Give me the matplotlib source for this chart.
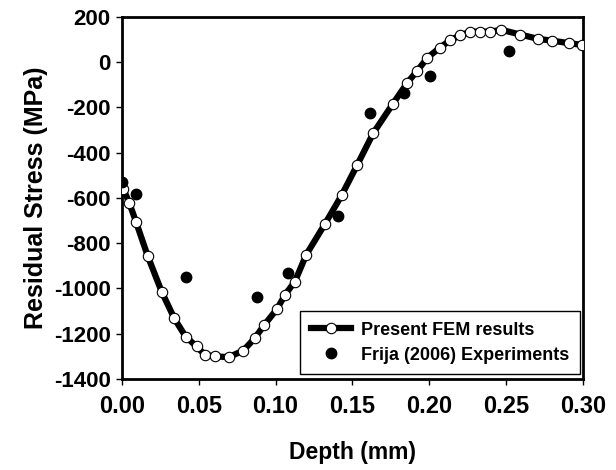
import numpy as np
import matplotlib.pyplot as plt

# FEM 결과 (깊이 mm, 잔류응력 MPa)
fem_depth = [0.0009, 0.0048, 0.0091, 0.0167, 0.0258, 0.0340, 0.0414, 0.0486,
             0.0540, 0.0605, 0.0696, 0.0790, 0.0865, 0.0924, 0.1010, 0.1061,
             0.1126, 0.1200, 0.1321, 0.1430, 0.1532, 0.1636, 0.1762, 0.1859,
             0.1924, 0.1989, 0.2070, 0.2139, 0.2204, 0.2269, 0.2334, 0.2399,
             0.2470, 0.2594, 0.2709, 0.2800, 0.2911, 0.2998]
fem_stress = [-561, -623, -705, -856, -1014, -1132, -1213, -1257,
              -1294, -1301, -1304, -1275, -1220, -1164, -1091, -1029,
              -970, -851, -716, -589, -454, -314, -186, -90,
              -37, 20, 64, 98, 119, 135, 135, 135,
              143, 122, 103, 95, 84, 76]

# 실험 데이터 (Frija 2006)
exp_depth = [0.0000, 0.0091, 0.0414, 0.0876, 0.1082, 0.1404, 0.1618, 0.1837, 0.2005, 0.2519]
exp_stress = [-528, -582, -951, -1039, -930, -680, -226, -137, -59, 51]

xticks = [0.00, 0.05, 0.10, 0.15, 0.20, 0.25, 0.30]
yticks = [-1400, -1200, -1000, -800, -600, -400, -200, 0, 200]

plt.rcParams['font.family'] = ['Liberation Sans', 'DejaVu Sans']
plt.rcParams['font.weight'] = 'bold'

fig = plt.figure(figsize=(6.16, 4.70), dpi=100)
ax = fig.add_axes([0.198, 0.194, 0.748, 0.770])

ax.plot(fem_depth, fem_stress, color='black', lw=4.5, marker='o', ms=7.5,
        mfc='white', mec='black', mew=0.8, label='Present FEM results', zorder=3)
ax.plot(exp_depth, exp_stress, ls='none', marker='o', ms=7.5, color='black',
        label='Frija (2006) Experiments', zorder=4)

ax.set_xlim(0, 0.30)
ax.set_ylim(-1400, 200)
ax.set_xticks(xticks)
ax.set_yticks(yticks)
ax.set_xticklabels(['%.2f' % t for t in xticks], fontsize=17, fontweight='bold')
ax.set_yticklabels([str(t) for t in yticks], fontsize=16, fontweight='bold')
ax.tick_params(direction='out', length=4, width=1)
ax.tick_params(axis='x', pad=8)
ax.tick_params(axis='y', pad=4)

for s in ax.spines.values():
    s.set_linewidth(2)

ax.set_xlabel('Depth (mm)', fontsize=16.5, fontweight='bold', labelpad=16)
ax.set_ylabel('Residual Stress (MPa)', fontsize=18, fontweight='bold', labelpad=4)

leg = ax.legend(loc='lower right', prop={'size': 13, 'weight': 'bold'},
                fancybox=False, edgecolor='black', framealpha=1, borderpad=0.6,
                handlelength=2.2, handletextpad=0.6, labelspacing=0.45,
                bbox_to_anchor=(0.995, 0.012), borderaxespad=0)
leg.get_frame().set_linewidth(1)

fig.savefig('out.png', dpi=100)
